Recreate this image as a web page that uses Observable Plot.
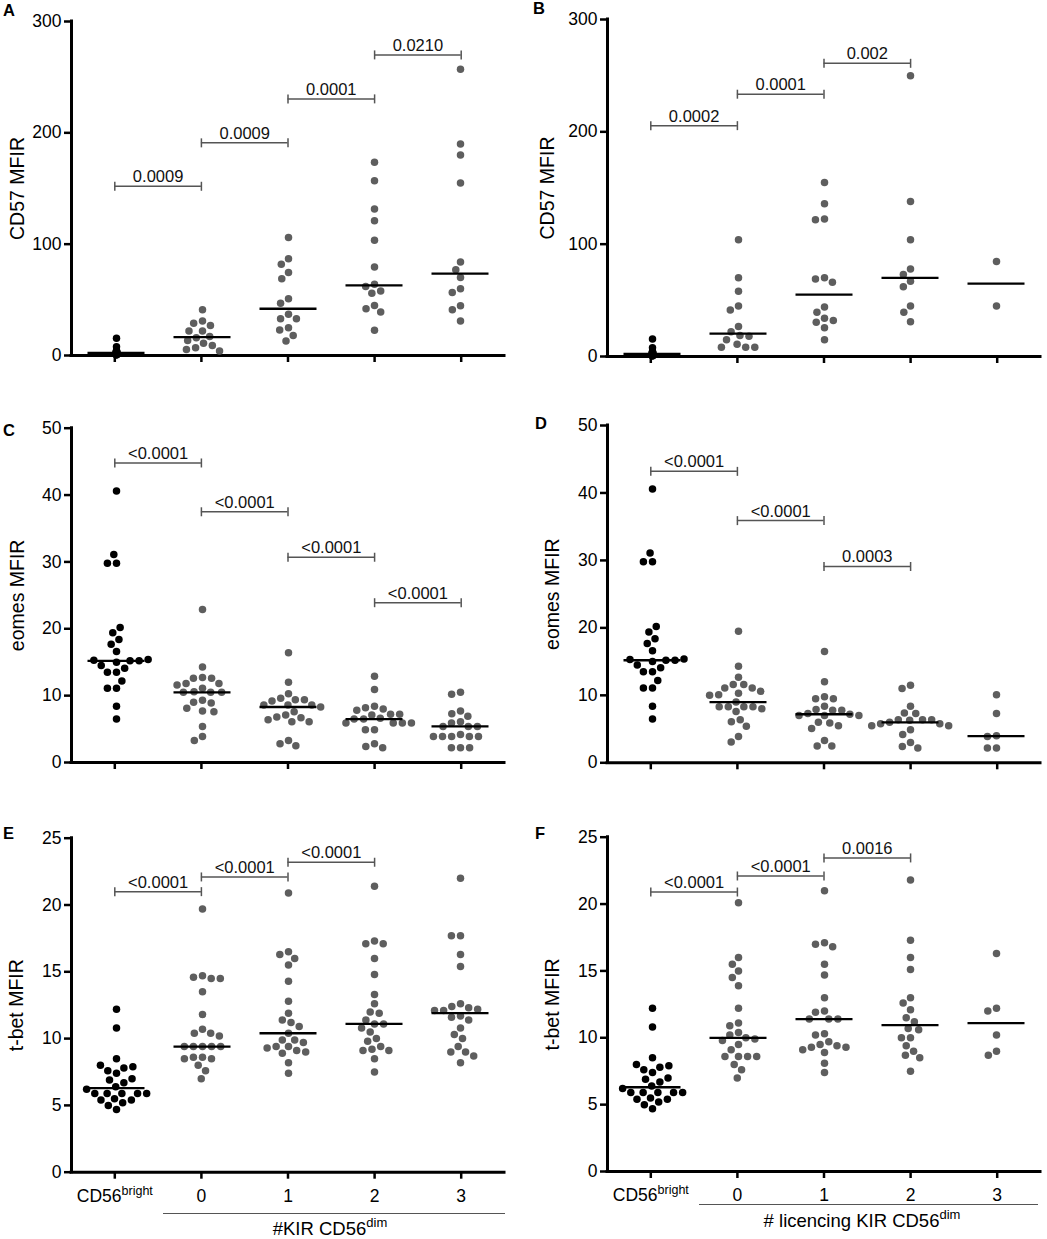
<!DOCTYPE html>
<html><head><meta charset="utf-8">
<script src="https://cdn.jsdelivr.net/npm/d3@7"></script>
<script src="https://cdn.jsdelivr.net/npm/@observablehq/plot@0.6"></script>
<style>
body{margin:0;background:#fff;}
#root{position:relative;width:1047px;height:1239px;font-family:"Liberation Sans",Arial,sans-serif;color:#000;overflow:hidden;}
.layer{position:absolute;}
.layer svg{display:block;}
.letter{position:absolute;font-weight:bold;font-size:16.5px;line-height:16px;}
.grpline{position:absolute;border-top:1.3px solid #555;height:0;}
.grptitle{position:absolute;font-size:18.5px;line-height:18.5px;text-align:center;white-space:nowrap;}
.grptitle .sup{font-size:13px;position:relative;top:-8px;}
</style></head><body><div id="root"></div>
<script>
// ---------- data ----------
const brightLabel = {base: "CD56", sup: "bright"};
const categories = [brightLabel.base + brightLabel.sup, "0", "1", "2", "3"];
const kirGroupTitle = {base: "#KIR CD56", sup: "dim"};
const licGroupTitle = {base: "# licencing KIR CD56", sup: "dim"};

const cd57Ticks = [0, 100, 200, 300];
const eomesTicks = [0, 10, 20, 30, 40, 50];
const tbetTicks = [0, 5, 10, 15, 20, 25];

// CD57 MFIR
const cd57Bright = [15.5, 7.8, 4.2, 3.9, 3.6, 3.3, 3.0, 2.8, 2.5, 2.2, 2.0, 1.8, 1.6, 1.4, 1.2, 1.0, 0.9, 0.8, 0.7, 0.6, 3.1, 4.0];
const cd57Kir0 = [41, 31, 29, 27, 22, 22, 17, 16, 13.5, 11, 9, 7, 5.4, 4];
const cd57Kir1 = [106, 87, 82, 74.5, 69, 51, 47, 37, 33, 33, 25, 23, 18, 13];
const cd57Kir2 = [173.5, 157, 131.6, 121, 103.5, 79.6, 64, 62, 58, 56, 45, 42, 39, 22.7];
const cd57Kir3 = [257, 190, 180, 155, 84, 77, 70, 60, 56.5, 44.6, 41, 31];
const cd57Lic0 = [104, 70, 58, 45, 41.5, 26.7, 22, 18.7, 18, 15, 11, 8.3, 8.3, 8.3];
const cd57Lic1 = [155, 136, 122.5, 121.7, 70, 69, 66, 44, 39.5, 34, 32, 30.6, 25.5, 14.8];
const cd57Lic2 = [250, 138, 104, 78, 73, 67, 62, 45, 39.5, 31];
const cd57Lic3 = [84.6, 45];

// eomes MFIR
const eomesBright = [40.6, 31.1, 29.8, 29.8, 20.2, 19.4, 18.4, 17.7, 16.6, 15.4, 15.3, 15.2, 15.2, 15.0, 14.5, 14.1, 13.5, 13.5, 12.2, 11.1, 11.1, 8.4, 6.5];
const eomesKir0 = [22.9, 14.3, 12.7, 12.6, 12.6, 11.8, 11.8, 11.6, 11.1, 10.6, 10.5, 10.5, 10.5, 9.3, 9.0, 8.9, 8.1, 7.7, 7.6, 5.4, 3.9, 3.3];
const eomesKir1 = [16.4, 12.0, 10.3, 9.6, 9.4, 9.4, 9.2, 8.6, 8.6, 8.6, 8.3, 7.6, 7.1, 6.8, 6.7, 6.4, 6.1, 6.1, 3.3, 2.8, 2.5];
const eomesKir2 = [12.9, 10.9, 8.4, 8.2, 8.0, 7.8, 7.2, 7.2, 7.1, 6.6, 6.5, 6.5, 5.9, 5.9, 5.9, 5.9, 4.9, 4.9, 2.8, 2.4, 2.2];
const eomesKir3 = [10.5, 10.2, 7.7, 7.3, 6.9, 6.1, 5.9, 5.4, 5.4, 5.4, 4.2, 3.9, 3.9, 3.9, 3.9, 3.9, 2.2, 2.2, 2.2];
const eomesLic0 = [19.5, 14.3, 12.7, 11.6, 11.6, 11.1, 11.1, 10.6, 10.3, 10.1, 10.0, 9.0, 8.3, 8.3, 8.3, 8.3, 8.0, 7.6, 6.4, 6.1, 5.4, 3.9, 3.1];
const eomesLic1 = [16.5, 12.0, 9.8, 9.5, 9.5, 8.4, 7.9, 7.8, 7.8, 7.3, 7.2, 7.0, 7.0, 7.0, 6.0, 5.9, 5.5, 5.1, 3.3, 2.5, 2.5];
const eomesLic2 = [11.5, 11.0, 8.4, 7.4, 7.3, 6.4, 6.4, 6.4, 6.3, 6.0, 5.8, 5.8, 5.5, 5.5, 4.9, 4.2, 3.0, 2.4, 2.2];
const eomesLic3 = [10.1, 7.3, 4.0, 3.9, 2.2, 2.2];

// t-bet MFIR
const tbetBright = [12.2, 10.8, 8.5, 8.0, 7.9, 7.8, 7.6, 7.4, 7.0, 6.9, 6.7, 6.4, 6.2, 5.9, 5.9, 5.9, 5.9, 5.9, 5.5, 5.4, 5.4, 5.2, 5.0, 4.7];
const tbetKir0 = [19.7, 14.7, 14.6, 14.5, 14.5, 13.5, 11.8, 10.7, 10.4, 10.4, 10.2, 9.4, 9.4, 9.4, 9.4, 9.4, 8.6, 8.6, 8.5, 8.5, 8.0, 7.6, 7.0];
const tbetKir1 = [20.9, 16.5, 16.3, 16.0, 15.5, 14.3, 12.8, 11.9, 11.4, 11.2, 10.9, 10.4, 9.9, 9.9, 9.7, 9.4, 9.4, 9.3, 9.1, 9.0, 8.9, 8.2, 7.4];
const tbetKir2 = [21.4, 17.3, 17.1, 17.1, 16.0, 14.8, 13.3, 12.6, 12.0, 11.9, 11.4, 11.1, 11.1, 10.8, 10.5, 10.0, 9.8, 9.4, 9.2, 9.1, 9.1, 8.5, 7.5];
const tbetKir3 = [22.0, 17.7, 17.7, 16.3, 15.4, 12.6, 12.4, 12.3, 12.2, 12.1, 12.1, 11.7, 11.6, 11.4, 10.8, 10.3, 10.0, 9.4, 9.0, 9.0, 8.7, 8.2];
const tbetLic0 = [20.1, 16.0, 15.5, 15.0, 14.5, 13.9, 12.2, 11.1, 10.9, 10.4, 10.2, 10.0, 9.9, 9.8, 9.5, 9.1, 8.6, 8.6, 8.6, 8.6, 8.0, 7.6, 7.0];
const tbetLic1 = [21.0, 17.1, 17.0, 16.8, 15.5, 14.7, 13.0, 12.0, 11.9, 11.4, 11.4, 11.4, 10.3, 10.2, 9.7, 9.5, 9.4, 9.3, 9.3, 9.1, 8.9, 8.1, 7.4];
const tbetLic2 = [21.8, 17.3, 16.0, 15.1, 13.0, 12.6, 12.1, 11.5, 11.2, 10.7, 10.6, 10.0, 10.0, 9.4, 9.0, 8.7, 8.5, 7.5];
const tbetLic3 = [16.3, 12.2, 12.0, 10.2, 9.0, 8.7];

// significance brackets (from group, to group, bracket height in data units, p-value)
const cd57KirP = [
  {from: categories[0], to: "0", y: 152, label: "0.0009"},
  {from: "0", to: "1", y: 191, label: "0.0009"},
  {from: "1", to: "2", y: 230.5, label: "0.0001"},
  {from: "2", to: "3", y: 270, label: "0.0210"}
];
const cd57LicP = [
  {from: categories[0], to: "0", y: 205.5, label: "0.0002"},
  {from: "0", to: "1", y: 233.5, label: "0.0001"},
  {from: "1", to: "2", y: 261, label: "0.002"}
];
const eomesKirP = [
  {from: categories[0], to: "0", y: 44.8, label: "<0.0001"},
  {from: "0", to: "1", y: 37.5, label: "<0.0001"},
  {from: "1", to: "2", y: 30.7, label: "<0.0001"},
  {from: "2", to: "3", y: 23.9, label: "<0.0001"}
];
const eomesLicP = [
  {from: categories[0], to: "0", y: 43.2, label: "<0.0001"},
  {from: "0", to: "1", y: 35.9, label: "<0.0001"},
  {from: "1", to: "2", y: 29.1, label: "0.0003"}
];
const tbetKirP = [
  {from: categories[0], to: "0", y: 21.0, label: "<0.0001"},
  {from: "0", to: "1", y: 22.1, label: "<0.0001"},
  {from: "1", to: "2", y: 23.2, label: "<0.0001"}
];
const tbetLicP = [
  {from: categories[0], to: "0", y: 20.9, label: "<0.0001"},
  {from: "0", to: "1", y: 22.1, label: "<0.0001"},
  {from: "1", to: "2", y: 23.45, label: "0.0016"}
];

// ---------- drawing ----------
const FONT = "'Liberation Sans', Arial, sans-serif";
const root = document.getElementById("root");
const PLOT_W = 433;
const capSymbol = {draw(context) { context.moveTo(0, -4.5); context.lineTo(0, 4.5); }};
const idx = c => categories.indexOf(c);

function addSup(svg) {
  svg.querySelectorAll("text").forEach(t => {
    if (t.textContent === categories[0]) {
      t.textContent = brightLabel.base;
      const ts = document.createElementNS("http://www.w3.org/2000/svg", "tspan");
      ts.setAttribute("dy", "-6.5");
      ts.setAttribute("font-size", "12.5");
      ts.textContent = brightLabel.sup;
      t.appendChild(ts);
    }
  });
}

function panel(p) {
  const mL = p.axisX - p.left, mT = p.yTop - p.top, mB = p.top + p.height - p.y0;
  const mR = p.width - mL - PLOT_W;
  const common = {
    width: p.width, height: p.height,
    marginLeft: mL, marginRight: mR, marginTop: mT, marginBottom: mB,
    style: {background: "transparent", fontFamily: FONT, fontSize: "17.5px", color: "#000", overflow: "visible"}
  };
  const points = p.groups.flatMap((vals, gi) => vals.map(v => ({cat: categories[gi], v})));
  const medians = p.groups.map((vals, gi) => ({cat: categories[gi], m: d3.median(vals)}));
  const caps = p.brackets.flatMap(d => [{x: idx(d.from), y: d.y}, {x: idx(d.to), y: d.y}]);

  const base = Plot.plot({
    ...common,
    x: {type: "linear", domain: [-0.5, 4.5]},
    y: {domain: [0, p.yMax]},
    marks: [
      Plot.ruleY(p.brackets, {y: "y", x1: d => idx(d.from), x2: d => idx(d.to), stroke: "#555", strokeWidth: 1.5}),
      Plot.dot(caps, {x: "x", y: "y", symbol: capSymbol, stroke: "#555", strokeWidth: 1.5, fill: "none"}),
      Plot.text(p.brackets, {x: d => (idx(d.from) + idx(d.to)) / 2, y: "y", text: "label", dy: -4, lineAnchor: "bottom", fontSize: 16.5, fill: "#111"}),
      Plot.axisY({ticks: p.ticks, tickSize: 7, tickPadding: 3, strokeWidth: 2.5, fontSize: 17.5, label: null}),
      Plot.axisX({ticks: [0, 1, 2, 3, 4], tickSize: 7, tickPadding: 10, strokeWidth: 2.5, fontSize: 17.5, label: null,
                  tickFormat: p.xLabels ? (i => categories[i]) : (() => "")}),
      Plot.ruleX([-0.5], {stroke: "#000", strokeWidth: 3, strokeLinecap: "square"}),
      Plot.ruleY([0], {stroke: "#000", strokeWidth: 3, strokeLinecap: "square"}),
      Plot.text([p.title], {text: d => d, frameAnchor: "left", rotate: -90, dx: p.titleDx, lineAnchor: "bottom", textAnchor: "middle", fontSize: 19.5, fill: "#000"})
    ]
  });

  const dots = Plot.plot({
    ...common,
    fx: {domain: categories, padding: 0, axis: null},
    y: {domain: [0, p.yMax], axis: null},
    marks: [
      Plot.dot(points.filter(d => d.cat === categories[0]),
        Plot.dodgeX({anchor: "middle", padding: p.brightPadding}, {fx: "cat", y: "v", r: 3.75, fill: "#000", sort: {channel: "y"}})),
      Plot.dot(points.filter(d => d.cat !== categories[0]),
        Plot.dodgeX({anchor: "middle", padding: 1.6}, {fx: "cat", y: "v", r: 3.75, fill: "#5e5e5e"})),
      Plot.ruleY(medians, {fx: "cat", y: "m", insetLeft: 14.5, insetRight: 14.5, stroke: "#000", strokeWidth: 2.3})
    ]
  });

  for (const svg of [base, dots]) {
    const div = document.createElement("div");
    div.className = "layer";
    div.style.left = p.left + "px";
    div.style.top = p.top + "px";
    div.style.width = p.width + "px";
    div.style.height = p.height + "px";
    div.appendChild(svg);
    root.appendChild(div);
  }
  addSup(base);

  const L = document.createElement("div");
  L.className = "letter";
  L.textContent = p.letter;
  L.style.left = p.letterPos[0] + "px";
  L.style.top = p.letterPos[1] + "px";
  root.appendChild(L);
}

panel({letter: "A", letterPos: [3, 2], left: 0, top: 0, width: 520, height: 375, axisX: 71, yTop: 21, y0: 355,
  yMax: 300, ticks: cd57Ticks, title: "CD57 MFIR", titleDx: -48, brightPadding: -4.6, xLabels: false,
  groups: [cd57Bright, cd57Kir0, cd57Kir1, cd57Kir2, cd57Kir3], brackets: cd57KirP});
panel({letter: "B", letterPos: [533, 0], left: 520, top: 0, width: 527, height: 375, axisX: 607, yTop: 19, y0: 356,
  yMax: 300, ticks: cd57Ticks, title: "CD57 MFIR", titleDx: -54, brightPadding: -4.6, xLabels: false,
  groups: [cd57Bright, cd57Lic0, cd57Lic1, cd57Lic2, cd57Lic3], brackets: cd57LicP});
panel({letter: "C", letterPos: [3, 422], left: 0, top: 380, width: 520, height: 400, axisX: 71, yTop: 427.7, y0: 762,
  yMax: 50, ticks: eomesTicks, title: "eomes MFIR", titleDx: -48, brightPadding: 1.6, xLabels: false,
  groups: [eomesBright, eomesKir0, eomesKir1, eomesKir2, eomesKir3], brackets: eomesKirP});
panel({letter: "D", letterPos: [535, 415], left: 520, top: 380, width: 527, height: 400, axisX: 607, yTop: 425, y0: 762.3,
  yMax: 50, ticks: eomesTicks, title: "eomes MFIR", titleDx: -49, brightPadding: 1.6, xLabels: false,
  groups: [eomesBright, eomesLic0, eomesLic1, eomesLic2, eomesLic3], brackets: eomesLicP});
panel({letter: "E", letterPos: [3, 825], left: 0, top: 800, width: 520, height: 410, axisX: 71, yTop: 837.7, y0: 1171.7,
  yMax: 25, ticks: tbetTicks, title: "t-bet MFIR", titleDx: -49, brightPadding: 1.6, xLabels: true,
  groups: [tbetBright, tbetKir0, tbetKir1, tbetKir2, tbetKir3], brackets: tbetKirP});
panel({letter: "F", letterPos: [535, 825], left: 520, top: 800, width: 527, height: 410, axisX: 607, yTop: 836.7, y0: 1171,
  yMax: 25, ticks: tbetTicks, title: "t-bet MFIR", titleDx: -49, brightPadding: 1.6, xLabels: true,
  groups: [tbetBright, tbetLic0, tbetLic1, tbetLic2, tbetLic3], brackets: tbetLicP});

function groupTitle(t, lineLeft, lineTop, lineWidth, centerX, textTop) {
  const ln = document.createElement("div");
  ln.className = "grpline";
  ln.style.left = lineLeft + "px"; ln.style.top = lineTop + "px"; ln.style.width = lineWidth + "px";
  root.appendChild(ln);
  const tx = document.createElement("div");
  tx.className = "grptitle";
  tx.style.left = (centerX - 200) + "px"; tx.style.width = "400px"; tx.style.top = textTop + "px";
  tx.appendChild(document.createTextNode(t.base));
  const s = document.createElement("span");
  s.className = "sup"; s.textContent = t.sup;
  tx.appendChild(s);
  root.appendChild(tx);
}
groupTitle(kirGroupTitle, 163, 1213, 342, 330, 1220);
groupTitle(licGroupTitle, 699, 1204, 339, 862, 1212);
</script></body></html>
